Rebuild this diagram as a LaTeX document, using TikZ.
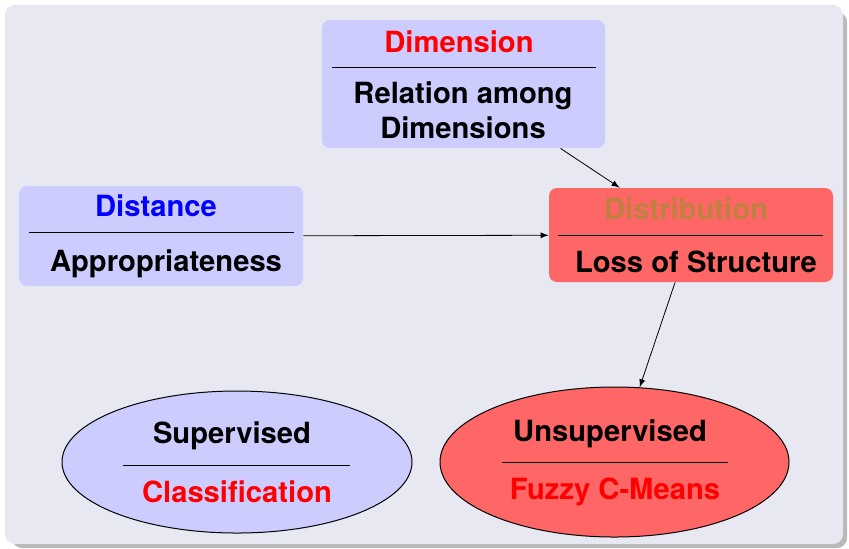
\documentclass[tikz,border=0pt]{standalone}
\usepackage{fontspec}
\setmainfont{TeX Gyre Heros}
\usetikzlibrary{arrows,shapes.geometric,positioning}

\definecolor{blockbg}{RGB}{232,232,242}
\definecolor{lilac}{RGB}{204,204,255}
\definecolor{salmon}{RGB}{255,102,102}
\definecolor{ochre}{rgb}{0.75,0.5,0.25}

\tikzset{
  box/.style={rounded corners=4pt, inner sep=0pt},
  oval/.style={ellipse, draw=black, line width=0.5pt, inner sep=0pt},
  lbl/.style={font=\bfseries\fontsize{14.6}{17.5}\selectfont, inner sep=0pt, align=center, anchor=base},
  rule/.style={line width=0.5pt},
}

\begin{document}
\begin{tikzpicture}[x=0.5pt, y=-0.5pt, >=latex]
  \useasboundingbox (0,0) rectangle (849,548);
  % block body with its shadow
  \fill[gray!55, rounded corners=5pt] (12,12) rectangle (847,548);
  \fill[blockbg, rounded corners=5pt] (5,5) rectangle (843,544);

  % the three boxes
  \node[box, fill=lilac, minimum width=141.5pt, minimum height=64pt] (dim) at (463.5,84) {};
  \node[box, fill=lilac, minimum width=142pt, minimum height=50pt] (dist) at (161,236) {};
  \node[box, fill=salmon, minimum width=142pt, minimum height=47pt] (distr) at (691,235) {};

  % the two ovals
  \node[oval, fill=lilac, minimum width=175pt, minimum height=71pt] (sup) at (237,462) {};
  \node[oval, fill=salmon, minimum width=174.5pt, minimum height=75pt] (unsup) at (614.5,462) {};

  % rules between head and body
  \draw[rule] (332,67) -- (596,67);
  \draw[rule] (29,232) -- (294,232);
  \draw[rule] (558,235) -- (823,235);
  \draw[rule] (123,465) -- (350,465);
  \draw[rule] (502,462) -- (728,462);

  % texts (base is the last line)
  \node[lbl, text=red] (dimhead) at (459,52) {Dimension};
  \node[lbl] (dimbody) at (463,138) {Relation among\\Dimensions};
  \node[lbl, text=blue] (disthead) at (156,216) {Distance};
  \node[lbl] (distbody) at (166,271) {Appropriateness};
  \node[lbl, text=ochre] (distrhead) at (686,219) {Distribution};
  \node[lbl] (distrbody) at (696,272) {Loss of Structure};
  \node[lbl] (suphead) at (232,443) {Supervised};
  \node[lbl, text=red] (supbody) at (237,502) {Classification};
  \node[lbl] (unsuphead) at (610,441) {Unsupervised};
  \node[lbl, text=red] (unsupbody) at (615,499) {Fuzzy C-Means};

  % links
  \draw[->] (dim) -- (distr);
  \draw[->] (dist) -- (distr);
  \draw[->] (distr) -- (unsup);
\end{tikzpicture}
\end{document}
